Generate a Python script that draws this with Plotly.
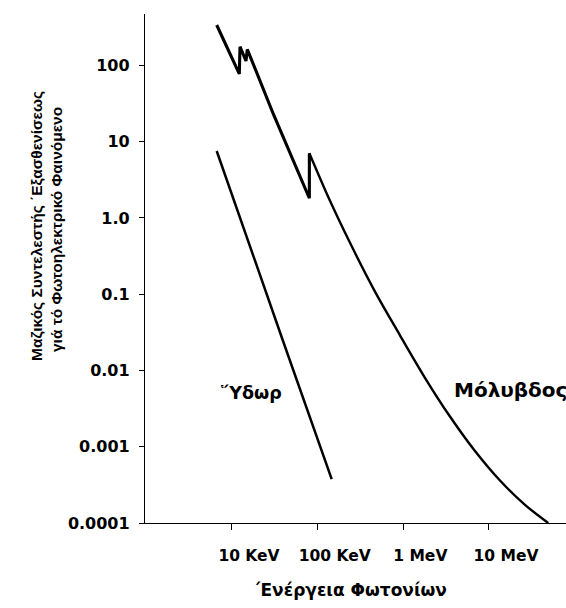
import plotly.graph_objects as go

# Photon energy (keV) and photoelectric mass attenuation coefficient (cm^2/g)
# Lead: low-energy part with L and K absorption edges
lead_edge_energy = [6.63, 12.17, 12.4, 14.57, 15.09, 30.35, 80.0, 80.0]
lead_edge_mu = [338.5, 77.2, 175.9, 114.2, 162.6, 23.07, 1.812, 7.05]
# Lead: smooth part above the K edge
lead_tail_energy = [80.0, 139.3, 238.5, 466.9, 914.1, 1789, 3505, 6864, 13440, 26320, 49200]
lead_tail_mu = [7.05, 1.675, 0.4718, 0.1081, 0.02893, 0.008023, 0.002488,
                0.000878, 0.0003606, 0.0001732, 0.0001]

water_energy = [6.63, 12.4, 39.06, 145.8]
water_mu = [7.55, 1.0, 0.0251, 0.000376]

x_tick_vals = [10, 100, 1000, 10000]
x_tick_text = ["10 KeV", "100 KeV", "1 MeV", "10 MeV"]
y_tick_vals = [100, 10, 1, 0.1, 0.01, 0.001, 0.0001]
y_tick_text = ["100", "10", "1.0", "0.1", "0.01", "0.001", "0.0001"]

FONT = "DejaVu Sans"
FONT2 = "Liberation Sans"

fig = go.Figure()
fig.add_trace(go.Scatter(x=lead_edge_energy, y=lead_edge_mu, mode="lines",
                         line=dict(color="black", width=3.1), showlegend=False))
fig.add_trace(go.Scatter(x=lead_tail_energy, y=lead_tail_mu, mode="lines",
                         line=dict(color="black", width=2.4, shape="spline", smoothing=1.0),
                         showlegend=False))
fig.add_trace(go.Scatter(x=water_energy, y=water_mu, mode="lines",
                         line=dict(color="black", width=2.5), showlegend=False))

fig.update_layout(
    width=566, height=608,
    margin=dict(l=145, r=0, t=14, b=85),
    paper_bgcolor="white", plot_bgcolor="white",
    font=dict(family=FONT, color="black"),
    xaxis=dict(type="log", range=[-0.0155, 4.899], showgrid=False, zeroline=False,
               showline=True, linecolor="black", linewidth=1.3,
               ticks="outside", ticklen=6, tickwidth=1.2, tickcolor="black",
               tickvals=x_tick_vals, ticktext=["<b>%s</b>" % t for t in x_tick_text],
               tickfont=dict(family=FONT, size=15.5, color="black"),
               ticklabelshift=17, ticklabelstandoff=12),
    yaxis=dict(type="log", range=[-4.0, 2.674], showgrid=False, zeroline=False,
               showline=True, linecolor="black", linewidth=1.3,
               ticks="outside", ticklen=5, tickwidth=1.2, tickcolor="black",
               tickvals=y_tick_vals, ticktext=["<b>%s</b>" % t for t in y_tick_text],
               tickfont=dict(family=FONT, size=16, color="black"),
               ticklabelstandoff=6),
)

def ann(text, x, y, size, xanchor="center", angle=0, family=FONT):
    fig.add_annotation(text="<b>%s</b>" % text, x=x, y=y, xref="paper", yref="paper",
                       xanchor=xanchor, yanchor="middle", textangle=angle,
                       showarrow=False,
                       font=dict(family=family, size=size, color="black"))

ann("Ὕδωρ", 0.252, 0.2554, 17.5)
ann("Μόλυβδος", 0.729, 0.2613, 20, xanchor="left")
ann("Μαζικός Συντελεστής ΄Εξασθενίσεως", -0.2565, 0.5835, 15.5, angle=-90, family=FONT2)
ann("γιά τό Φωτοηλεκτρικό Φαινόμενο", -0.2114, 0.5756, 15.5, angle=-90, family=FONT2)
ann("΄Ενέργεια Φωτονίων", 0.487, -0.1316, 17)

fig.write_html("out.html")
